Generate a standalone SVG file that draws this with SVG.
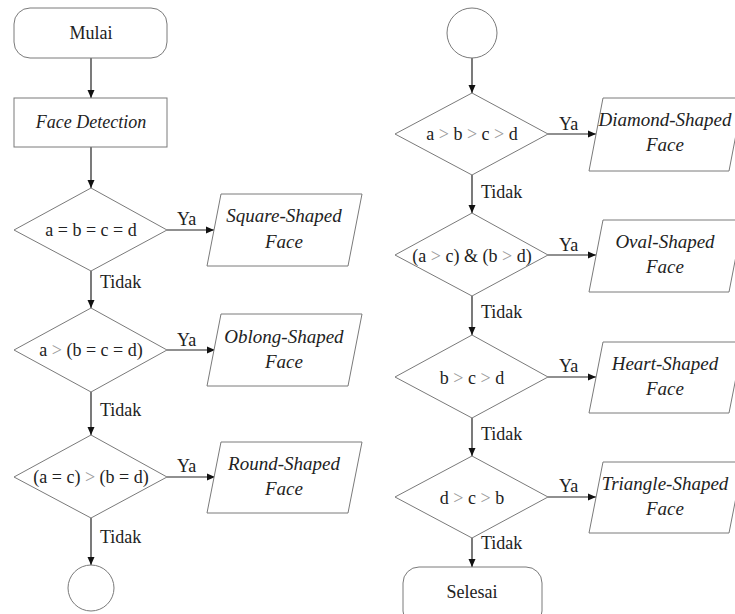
<svg xmlns="http://www.w3.org/2000/svg" width="735" height="614" viewBox="0 0 735 614" font-family="Liberation Serif, DejaVu Serif, serif">
<style>
.shape{fill:#fff;stroke:#7a7a7a;stroke-width:1}
.conn{fill:none;stroke:#222;stroke-width:1.2}
text{font-family:'Liberation Serif','DejaVu Serif',serif;font-size:18px;fill:#222}
.c{text-anchor:middle}
.i{font-style:italic}
.o{font-size:19px}
.g{fill:#9a9a9a}
</style>
<defs>
<marker id="ah" markerWidth="8" markerHeight="8" refX="8" refY="4" orient="auto" markerUnits="userSpaceOnUse">
<path d="M0,0.5 L8,4 L0,7.5 Z" fill="#111"/>
</marker>
</defs>
<rect width="735" height="614" fill="#fff"/>
<g id="connectors">
<line class="conn" x1="91" y1="58" x2="91" y2="98" marker-end="url(#ah)"/>
<line class="conn" x1="91" y1="147" x2="91" y2="188" marker-end="url(#ah)"/>
<line class="conn" x1="167" y1="230" x2="214" y2="230" marker-end="url(#ah)"/>
<line class="conn" x1="91" y1="271" x2="91" y2="308" marker-end="url(#ah)"/>
<line class="conn" x1="167" y1="350" x2="215" y2="350" marker-end="url(#ah)"/>
<line class="conn" x1="91" y1="392" x2="91" y2="435" marker-end="url(#ah)"/>
<line class="conn" x1="167" y1="477" x2="215" y2="477" marker-end="url(#ah)"/>
<line class="conn" x1="91" y1="518" x2="91" y2="565" marker-end="url(#ah)"/>
<line class="conn" x1="472" y1="58" x2="472" y2="93" marker-end="url(#ah)"/>
<line class="conn" x1="548" y1="134" x2="596" y2="134" marker-end="url(#ah)"/>
<line class="conn" x1="472" y1="175" x2="472" y2="213" marker-end="url(#ah)"/>
<line class="conn" x1="548" y1="255" x2="596" y2="255" marker-end="url(#ah)"/>
<line class="conn" x1="472" y1="296" x2="472" y2="335" marker-end="url(#ah)"/>
<line class="conn" x1="548" y1="377" x2="596" y2="377" marker-end="url(#ah)"/>
<line class="conn" x1="472" y1="418" x2="472" y2="456" marker-end="url(#ah)"/>
<line class="conn" x1="548" y1="497" x2="596" y2="497" marker-end="url(#ah)"/>
<line class="conn" x1="472" y1="538" x2="472" y2="567" marker-end="url(#ah)"/>
<text x="177" y="225">Ya</text>
<text x="177" y="346">Ya</text>
<text x="177" y="472">Ya</text>
<text x="100" y="288">Tidak</text>
<text x="100" y="416">Tidak</text>
<text x="100" y="543">Tidak</text>
<text x="559" y="130">Ya</text>
<text x="559" y="251">Ya</text>
<text x="559" y="372">Ya</text>
<text x="559" y="492">Ya</text>
<text x="481" y="198">Tidak</text>
<text x="481" y="318">Tidak</text>
<text x="481" y="440">Tidak</text>
<text x="481" y="549">Tidak</text>
</g>
<g id="mulai">
<rect class="shape" x="14" y="8" width="153" height="50" rx="16"/>
<text class="c" x="91" y="39">Mulai</text>
</g>
<g id="face-detection">
<rect class="shape" x="14" y="98" width="153" height="49"/>
<text class="c i" x="91" y="128">Face Detection</text>
</g>
<g id="cond-square">
<polygon class="shape" points="91,188 167,230 91,271 14,230"/>
<text class="c" x="91" y="236">a = b = c = d</text>
</g>
<g id="out-square">
<polygon class="shape" points="221,194 362,194 348,266 207,266"/>
<text class="c i o" x="284" y="222">Square-Shaped</text>
<text class="c i o" x="284" y="248">Face</text>
</g>
<g id="cond-oblong">
<polygon class="shape" points="91,308 167,350 91,392 14,350"/>
<text class="c" x="91" y="356">a <tspan class="g">&gt;</tspan> (b = c = d)</text>
</g>
<g id="out-oblong">
<polygon class="shape" points="221,314 362,314 348,386 207,386"/>
<text class="c i o" x="284" y="343">Oblong-Shaped</text>
<text class="c i o" x="284" y="368">Face</text>
</g>
<g id="cond-round">
<polygon class="shape" points="91,435 167,477 91,518 14,477"/>
<text class="c" x="91" y="483">(a = c) <tspan class="g">&gt;</tspan> (b = d)</text>
</g>
<g id="out-round">
<polygon class="shape" points="221,442 362,442 348,513 207,513"/>
<text class="c i o" x="284" y="470">Round-Shaped</text>
<text class="c i o" x="284" y="495">Face</text>
</g>
<g id="connector-out">
<circle class="shape" cx="91" cy="588" r="23"/>
</g>
<g id="connector-in">
<circle class="shape" cx="472" cy="33" r="25"/>
</g>
<g id="cond-diamond">
<polygon class="shape" points="472,93 548,134 472,175 395,134"/>
<text class="c" x="472" y="140">a <tspan class="g">&gt;</tspan> b <tspan class="g">&gt;</tspan> c <tspan class="g">&gt;</tspan> d</text>
</g>
<g id="out-diamond">
<polygon class="shape" points="603,98 743,98 729,171 589,171"/>
<text class="c i o" x="665" y="126">Diamond-Shaped</text>
<text class="c i o" x="665" y="151">Face</text>
</g>
<g id="cond-oval">
<polygon class="shape" points="472,213 548,255 472,296 395,255"/>
<text class="c" x="472" y="262">(a <tspan class="g">&gt;</tspan> c) &amp; (b <tspan class="g">&gt;</tspan> d)</text>
</g>
<g id="out-oval">
<polygon class="shape" points="603,220 743,220 729,292 589,292"/>
<text class="c i o" x="665" y="248">Oval-Shaped</text>
<text class="c i o" x="665" y="273">Face</text>
</g>
<g id="cond-heart">
<polygon class="shape" points="472,335 548,377 472,418 395,377"/>
<text class="c" x="472" y="384">b <tspan class="g">&gt;</tspan> c <tspan class="g">&gt;</tspan> d</text>
</g>
<g id="out-heart">
<polygon class="shape" points="603,342 743,342 729,413 589,413"/>
<text class="c i o" x="665" y="370">Heart-Shaped</text>
<text class="c i o" x="665" y="395">Face</text>
</g>
<g id="cond-triangle">
<polygon class="shape" points="472,456 548,497 472,538 395,497"/>
<text class="c" x="472" y="504">d <tspan class="g">&gt;</tspan> c <tspan class="g">&gt;</tspan> b</text>
</g>
<g id="out-triangle">
<polygon class="shape" points="603,462 743,462 729,533 589,533"/>
<text class="c i o" x="665" y="490">Triangle-Shaped</text>
<text class="c i o" x="665" y="515">Face</text>
</g>
<g id="selesai">
<rect class="shape" x="403" y="567" width="139" height="60" rx="16"/>
<text class="c" x="472" y="598">Selesai</text>
</g>
</svg>
